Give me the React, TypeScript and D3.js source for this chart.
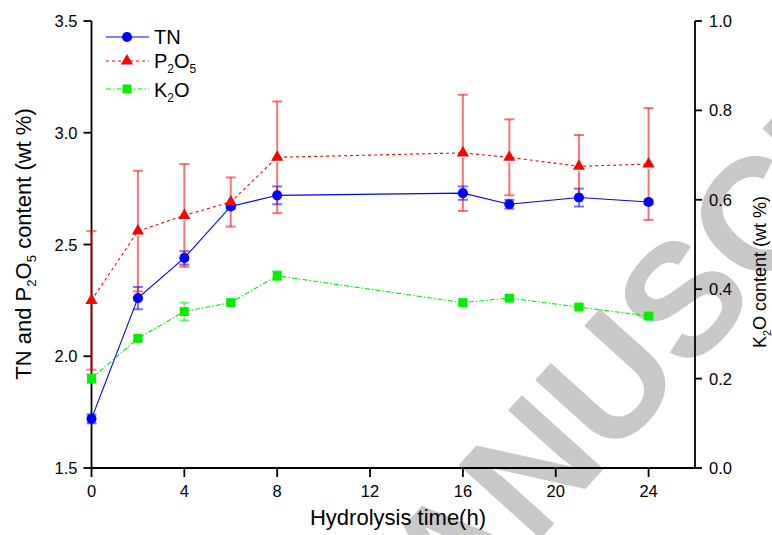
import React from "react";
import * as d3 from "d3";

// data
const times = [0, 2, 4, 6, 8, 16, 18, 21, 24];
const tn = [1.72, 2.26, 2.44, 2.67, 2.72, 2.73, 2.68, 2.71, 2.69];
const tnErr = [0.02, 0.05, 0.03, 0.01, 0.04, 0.03, 0.02, 0.04, 0.01];
const p2o5 = [2.25, 2.56, 2.63, 2.69, 2.89, 2.91, 2.89, 2.85, 2.86];
const p2o5Err = [0.31, 0.27, 0.23, 0.11, 0.25, 0.26, 0.17, 0.14, 0.25];
const k2o = [0.2, 0.29, 0.35, 0.37, 0.43, 0.37, 0.38, 0.36, 0.34];
const k2oErr = [0.01, 0.005, 0.02, 0.005, 0.01, 0.005, 0.005, 0.005, 0.005];

const xTicks = [0, 4, 8, 12, 16, 20, 24];
const leftTicks = [1.5, 2.0, 2.5, 3.0, 3.5];
const rightTicks = [0, 0.2, 0.4, 0.6, 0.8, 1.0];

const FONT = "'Liberation Sans', Arial, sans-serif";
const W = 772;
const H = 535;

const x = d3.scaleLinear().domain([0, 26]).range([91.5, 695]);
const yL = d3.scaleLinear().domain([1.5, 3.5]).range([468, 21]);
const yR = d3.scaleLinear().domain([0, 1]).range([468, 21]);

const circle = d3.symbol().type(d3.symbolCircle).size(80)();
const triangle = d3.symbol().type(d3.symbolTriangle).size(64)();
const square = d3.symbol().type(d3.symbolSquare).size(80)();

type Series = {
  name: string;
  vals: number[];
  errs: number[];
  y: d3.ScaleLinear<number, number>;
  color: string;
  dash: string | undefined;
  marker: string | null;
};

const series: Series[] = [
  { name: "TN", vals: tn, errs: tnErr, y: yL, color: "#0000ff", dash: undefined, marker: circle },
  { name: "P2O5", vals: p2o5, errs: p2o5Err, y: yL, color: "#ff0000", dash: "3,3", marker: triangle },
  { name: "K2O", vals: k2o, errs: k2oErr, y: yR, color: "#00ee00", dash: "5,2,1.5,2", marker: square },
];

function ErrorBars({ s }: { s: Series }) {
  const gap = 5;
  return (
    <g stroke={s.color} strokeOpacity={0.55} strokeWidth={2}>
      {times.map((t, i) => {
        const cx = x(t);
        const top = s.y(s.vals[i] + s.errs[i]);
        const bot = s.y(s.vals[i] - s.errs[i]);
        const cy = s.y(s.vals[i]);
        return (
          <g key={i}>
            {cy - gap > top && <line x1={cx} x2={cx} y1={top} y2={cy - gap} />}
            {cy + gap < bot && <line x1={cx} x2={cx} y1={cy + gap} y2={bot} />}
            <line x1={cx - 5} x2={cx + 5} y1={top} y2={top} />
            <line x1={cx - 5} x2={cx + 5} y1={bot} y2={bot} />
          </g>
        );
      })}
    </g>
  );
}

function Label({ base, sub1, mid, sub2, rest }: { base: string; sub1?: string; mid?: string; sub2?: string; rest?: string }) {
  return (
    <>
      {base}
      {sub1 && <tspan fontSize="0.6em" dy="5">{sub1}</tspan>}
      {mid && <tspan dy={sub1 ? -5 : 0}>{mid}</tspan>}
      {sub2 && <tspan fontSize="0.6em" dy="5">{sub2}</tspan>}
      {rest && <tspan dy={sub2 ? -5 : 0}>{rest}</tspan>}
    </>
  );
}

export default function App() {
  // watermark placement (rotated diagonal text)
  const ang = -47.9;
  const rad = (ang * Math.PI) / 180;
  const fs = 160;
  const ux = Math.cos(rad), uy = Math.sin(rad);
  const vx = -uy, vy = ux;
  const ox = 607 + vx * 57 - ux * 2.638 * fs;
  const oy = 380 + vy * 57 - uy * 2.638 * fs;

  const legendRows = [
    { y: 37, base: 44 },
    { y: 61, base: 68 },
    { y: 89, base: 97 },
  ];

  return (
    <svg width={W} height={H} style={{ position: "fixed", left: 0, top: 0, background: "#fff" }} fontFamily={FONT}>
      <rect width={W} height={H} fill="#fff" />
      {/* watermark */}
      <text
        transform={`translate(${ox},${oy}) rotate(${ang})`}
        fontSize={fs}
        fontWeight="bold"
        fill="#c8c8c8"
      >
        MANUSCRIPT
      </text>

      {/* axes */}
      <g stroke="#000" strokeWidth={1.8}>
        <line x1={x(0)} x2={x(26)} y1={468} y2={468} />
        <line x1={x(0)} x2={x(0)} y1={21} y2={468} />
        <line x1={x(26)} x2={x(26)} y1={21} y2={468} />
        {xTicks.map((t) => (
          <line key={t} x1={x(t)} x2={x(t)} y1={468} y2={477} />
        ))}
        {leftTicks.map((t) => (
          <line key={t} x1={x(0) - 8} x2={x(0)} y1={yL(t)} y2={yL(t)} />
        ))}
        {rightTicks.map((t) => (
          <line key={t} x1={x(26)} x2={x(26) + 7} y1={yR(t)} y2={yR(t)} />
        ))}
      </g>
      <g fontSize={16.5} fill="#000">
        {xTicks.map((t) => (
          <text key={t} x={x(t)} y={497} textAnchor="middle">{t}</text>
        ))}
        {leftTicks.map((t) => (
          <text key={t} x={77.5} y={yL(t) + 6} textAnchor="end">{d3.format(".1f")(t)}</text>
        ))}
        {rightTicks.map((t) => (
          <text key={t} x={709} y={yR(t) + 6}>{d3.format(".1f")(t)}</text>
        ))}
      </g>

      {/* axis titles */}
      <text x={398} y={525} fontSize={22} textAnchor="middle">Hydrolysis time(h)</text>
      <text transform={`translate(31,${244}) rotate(-90)`} fontSize={22} textAnchor="middle">
        <Label base="TN and P" sub1="2" mid="O" sub2="5" rest=" content (wt %)" />
      </text>
      <text transform={`translate(766,${272}) rotate(-90)`} fontSize={18} textAnchor="middle">
        <Label base="K" sub1="2" mid="O content (wt %)" />
      </text>

      {/* error bars */}
      {series.map((s) => (
        <ErrorBars key={s.name} s={s} />
      ))}

      {/* lines */}
      {series.map((s) => {
        const line = d3
          .line<number>()
          .x((_, i) => x(times[i]))
          .y((d) => s.y(d));
        return (
          <path key={s.name} d={line(s.vals) || ""} fill="none" stroke={s.color} strokeWidth={1.1} strokeDasharray={s.dash} />
        );
      })}

      {/* markers */}
      {series.map((s) => (
        <g key={s.name} fill={s.color}>
          {s.vals.map((v, i) => (
            <path key={i} d={s.marker || ""} transform={`translate(${x(times[i])},${s.y(v)})`} />
          ))}
        </g>
      ))}

      {/* legend */}
      {series.map((s, i) => (
        <g key={s.name}>
          <line x1={106} x2={149} y1={legendRows[i].y} y2={legendRows[i].y} stroke={s.color} strokeWidth={1.1} strokeDasharray={s.dash} />
          <path d={s.marker || ""} fill={s.color} transform={`translate(127,${legendRows[i].y})`} />
          <text x={154} y={legendRows[i].base} fontSize={20}>
            {i === 0 && <Label base="TN" />}
            {i === 1 && <Label base="P" sub1="2" mid="O" sub2="5" />}
            {i === 2 && <Label base="K" sub1="2" mid="O" />}
          </text>
        </g>
      ))}
    </svg>
  );
}
